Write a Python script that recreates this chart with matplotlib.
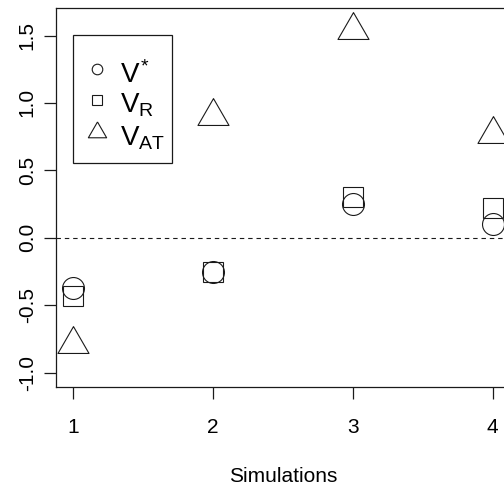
import matplotlib
matplotlib.use("Agg")
import matplotlib.pyplot as plt
from matplotlib.patches import Rectangle

matplotlib.rcParams.update(
    {
        "font.family": "Liberation Sans",
        "mathtext.fontset": "custom",
        "mathtext.rm": "Liberation Sans",
        "mathtext.it": "Liberation Sans",
        "mathtext.bf": "Liberation Sans:bold",
        "axes.linewidth": 0.9,
        "axes.edgecolor": "#1a1a1a",
        "axes.unicode_minus": False,
    }
)

# estimates per simulation run
simulations = [1, 2, 3, 4]
v_star = [-0.37, -0.25, 0.25, 0.10]
v_r = [-0.43, -0.25, 0.30, 0.22]
v_at = [-0.79, 0.90, 1.54, 0.77]
labels = [r"$V^{*}$", r"$V_R$", r"$V_{AT}$"]

# R-style point-up triangle (pch = 2)
tri = [(0.0, 1.555), (1.347, -0.778), (-1.347, -0.778), (0.0, 1.555)]

fig = plt.figure(figsize=(5.04, 4.93), dpi=100)
ax = fig.add_axes([0.1111, 0.2156, 0.9, 0.7682])

style = dict(ls="none", mfc="none", mec="#1a1a1a", mew=0.8, clip_on=False)
ax.plot(simulations, v_star, marker="o", ms=15.8, **style)
ax.plot(simulations, v_r, marker="s", ms=14.4, **style)
ax.plot(simulations, v_at, marker=tri, ms=25.8, **style)

ax.axhline(0, color="#1a1a1a", lw=0.8, ls=(0, (4, 3.5)))

ax.set_xlim(0.88, 4.12)
ax.set_ylim(-1.104, 1.704)
ax.set_xticks(simulations)
ax.set_yticks([-1.0, -0.5, 0.0, 0.5, 1.0, 1.5])
ax.tick_params(axis="both", direction="out", length=8.8, width=0.9,
               color="#1a1a1a", labelsize=15)
ax.tick_params(axis="x", pad=14)
ax.tick_params(axis="y", pad=5, labelrotation=90)
for lab in ax.get_yticklabels():
    lab.set_va("center")
ax.set_xlabel("Simulations", fontsize=15, labelpad=21)

# legend box with keys, drawn in axes coordinates
ax.add_patch(Rectangle((0.0381, 0.5899), 0.2170, 0.3388, transform=ax.transAxes,
                       fill=False, ec="#1a1a1a", lw=0.9))
key_y = [0.8389, 0.7562, 0.6726]
text_y = [0.8012, 0.7246, 0.6382]
key_marker = [("o", 7.6), ("s", 7.0), (tri, 15.2)]
for (m, s), ky, ty, lab in zip(key_marker, key_y, text_y, labels):
    ax.plot([0.0915], [ky], marker=m, ms=s, transform=ax.transAxes, **style)
    ax.text(0.1411, ty, lab, transform=ax.transAxes, fontsize=20,
            ha="left", va="baseline", color="black")

fig.savefig("out.png", dpi=100)
